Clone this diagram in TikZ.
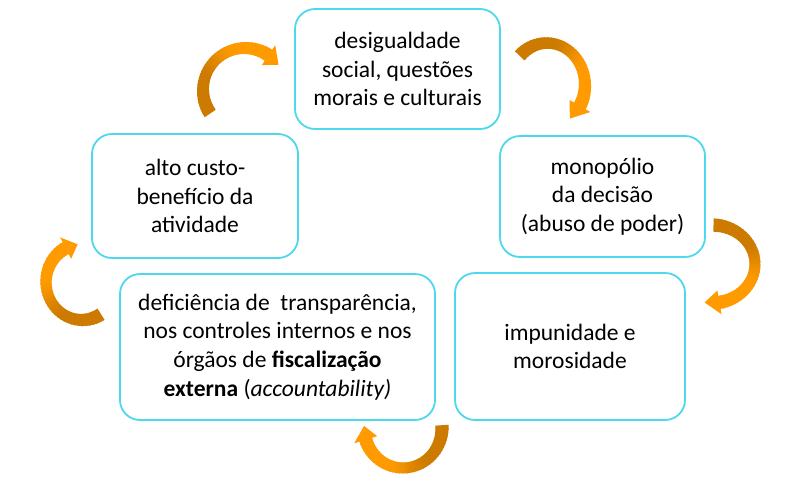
\documentclass[tikz,border=0pt]{standalone}
\usepackage{fontspec}
\setmainfont{Carlito}
\definecolor{boxline}{RGB}{77,216,238}
\definecolor{arrowlo}{RGB}{204,122,0}
\definecolor{arrowhi}{RGB}{255,155,0}
% #1 cx, #2 cy, #3 rx, #4 ry, #5 start angle, #6 head-base angle, #7 tip angle
\newcommand{\ribbonarrow}[7]{%
  \foreach \i in {0,...,35}{%
    \pgfmathsetmacro{\ta}{#5+(#6-#5)*\i/36}%
    \pgfmathsetmacro{\tb}{#5+(#6-#5)*(\i+1.4)/36}%
    \pgfmathsetmacro{\wa}{6.7*(1-0.18*sin(180*\i/36))}%
    \pgfmathsetmacro{\wb}{6.7*(1-0.18*sin(180*min(36,\i+1.4)/36))}%
    \pgfmathsetmacro{\u}{min(1,max(0,(\i/36-0.3)/0.4))}%
    \pgfmathtruncatemacro{\f}{100*\u*\u*(3-2*\u)}%
    \colorlet{segc}{arrowhi!\f!arrowlo}%
    \fill[segc] ({#1+(#3+\wa)*cos(\ta)},{#2+(#4+\wa)*sin(\ta)})
      -- ({#1+(#3+\wb)*cos(\tb)},{#2+(#4+\wb)*sin(\tb)})
      -- ({#1+(#3-\wb)*cos(\tb)},{#2+(#4-\wb)*sin(\tb)})
      -- ({#1+(#3-\wa)*cos(\ta)},{#2+(#4-\wa)*sin(\ta)}) -- cycle;
  }%
  \fill[arrowhi] ({#1+(#3+12)*cos(#6)},{#2+(#4+12)*sin(#6)})
    -- ({#1+#3*cos(#7)},{#2+#4*sin(#7)})
    -- ({#1+(#3-12)*cos(#6)},{#2+(#4-12)*sin(#6)}) -- cycle;
}
\begin{document}
\begin{tikzpicture}[x=1pt,y=-1pt,
  cyclebox/.style={draw=boxline, line width=1.8pt, rounded corners=20pt,
    align=center, inner sep=0pt, text=black,
    font=\fontsize{23.5}{28.7}\selectfont}]
\useasboundingbox (0,0) rectangle (799,490);
\fill[white] (0,0) rectangle (799,490);

\node[cyclebox, minimum width=205pt, minimum height=120pt] (top) at (397.5,69)
  {desigualdade\\social, questões\\morais e culturais};
\node[cyclebox, minimum width=205pt, minimum height=121pt] (right) at (602.5,196.5)
  {monopólio\\da decisão\\(abuso de poder)};
\node[cyclebox, minimum width=230pt, minimum height=147pt] (botright) at (570,346.5)
  {impunidade e\\morosidade};
\node[cyclebox, minimum width=315pt, minimum height=146pt] (botleft) at (277.5,347)
  {deficiência de\ \ transparência,\\nos controles internos e nos\\órgãos de \textbf{fiscalização}\\\textbf{externa} (\textit{accountability)}};
\node[cyclebox, minimum width=206pt, minimum height=124pt] (left) at (195,196)
  {alto custo-\\benefício da\\atividade};

\ribbonarrow{245}{90}{42}{42}{146}{304}{323}
\ribbonarrow{547}{85}{38}{42}{224}{390}{413}
\ribbonarrow{712}{264}{43}{39}{272}{440}{460}
\ribbonarrow{403}{428}{39}{40}{-4}{163}{183}
\ribbonarrow{82}{282}{36}{38}{58}{243}{263}
\end{tikzpicture}
\end{document}
